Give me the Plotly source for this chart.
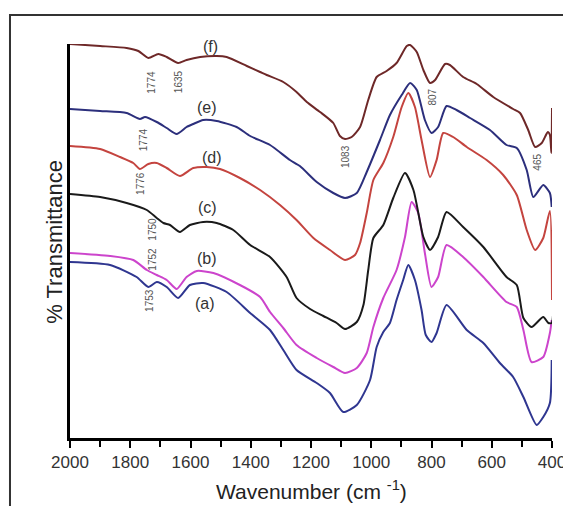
import plotly.graph_objects as go

# Wavenumber (cm-1) and offset % transmittance (arbitrary units)
wn_a = [2000, 1867, 1779, 1740, 1712, 1679, 1641, 1602, 1558, 1480, 1402, 1336, 1292, 1248, 1181, 1137, 1093, 1048, 1004, 982, 960, 938, 916, 894, 877, 855, 833, 819, 800, 783, 750, 683, 628, 573, 529, 495, 451, 429, 407, 401]
t_a = [176, 173, 161, 151, 156, 151, 140, 153, 155, 146, 125, 108, 88, 68, 55, 45, 26, 33, 58, 91, 106, 115, 138, 158, 173, 158, 128, 103, 96, 105, 133, 108, 95, 75, 61, 41, 13, 21, 35, 78]

wn_b = [2000, 1867, 1790, 1745, 1712, 1679, 1646, 1613, 1579, 1524, 1436, 1369, 1336, 1292, 1248, 1181, 1126, 1087, 1048, 1015, 993, 960, 916, 888, 866, 844, 822, 800, 778, 750, 695, 628, 551, 517, 495, 468, 429, 407, 401]
t_b = [185, 182, 178, 168, 163, 158, 149, 161, 167, 165, 153, 141, 126, 110, 93, 80, 71, 65, 70, 85, 111, 140, 168, 201, 236, 225, 185, 151, 161, 193, 181, 161, 136, 131, 108, 76, 81, 105, 118]

wn_c = [2000, 1900, 1812, 1745, 1712, 1690, 1668, 1635, 1602, 1558, 1513, 1458, 1402, 1336, 1281, 1248, 1203, 1159, 1115, 1087, 1048, 1026, 1010, 993, 960, 927, 888, 860, 827, 805, 778, 750, 695, 628, 551, 517, 495, 468, 429, 412, 401, 400]
t_c = [244, 241, 235, 228, 220, 215, 213, 206, 213, 216, 215, 208, 193, 181, 161, 140, 129, 122, 115, 109, 116, 133, 168, 200, 213, 240, 265, 248, 201, 188, 201, 226, 211, 191, 161, 153, 120, 111, 121, 115, 115, 208]

wn_d = [2000, 1900, 1834, 1790, 1768, 1740, 1712, 1679, 1635, 1591, 1546, 1502, 1436, 1369, 1303, 1248, 1192, 1137, 1087, 1054, 1037, 1015, 993, 960, 927, 899, 877, 855, 833, 805, 783, 761, 728, 683, 617, 562, 517, 484, 456, 429, 407, 400]
t_d = [292, 289, 281, 275, 269, 274, 275, 270, 262, 270, 271, 269, 260, 248, 233, 218, 200, 188, 178, 183, 195, 225, 258, 275, 301, 331, 345, 331, 298, 261, 278, 305, 301, 291, 278, 263, 243, 208, 188, 200, 227, 138]

wn_e = [2000, 1900, 1812, 1768, 1751, 1712, 1679, 1646, 1613, 1591, 1558, 1513, 1447, 1402, 1336, 1270, 1237, 1181, 1126, 1087, 1048, 1015, 971, 938, 899, 871, 849, 822, 800, 778, 750, 717, 672, 606, 551, 517, 484, 462, 429, 407, 401]
t_e = [329, 327, 325, 319, 321, 316, 310, 304, 311, 314, 318, 317, 311, 302, 293, 278, 272, 256, 245, 240, 245, 266, 298, 323, 343, 355, 348, 318, 305, 311, 332, 328, 320, 308, 293, 290, 268, 241, 253, 245, 231]

wn_f = [2000, 1900, 1812, 1773, 1740, 1707, 1679, 1641, 1613, 1568, 1513, 1480, 1413, 1369, 1347, 1292, 1248, 1214, 1170, 1126, 1104, 1087, 1065, 1037, 1010, 982, 949, 916, 882, 871, 849, 827, 805, 788, 755, 739, 695, 650, 595, 529, 506, 479, 456, 434, 414, 407, 402, 400]
t_f = [394, 392, 390, 387, 380, 384, 381, 375, 378, 381, 382, 381, 372, 366, 363, 356, 346, 336, 326, 315, 302, 299, 301, 311, 338, 361, 367, 375, 392, 393, 386, 368, 355, 358, 374, 373, 361, 354, 341, 329, 325, 308, 291, 295, 306, 303, 285, 330]

series_names = ["(a)", "(b)", "(c)", "(d)", "(e)", "(f)"]
series_colors = ["#2f3690", "#cc44cc", "#1a1a1a", "#c4443f", "#2c2f7c", "#6e2828"]

# Curve labels: text, wavenumber, transmittance
label_text = ["(f)", "(e)", "(d)", "(c)", "(b)", "(a)"]
label_wn = [1535, 1546, 1529, 1542, 1546, 1552]
label_t = [392, 331, 281, 231, 180, 135]

# Peak annotations (vertical text)
peak_text = ["1774", "1635", "1774", "1776", "1750", "1752", "1753", "1083", "807", "465"]
peak_wn = [1732, 1641, 1757, 1768, 1729, 1729, 1738, 1087, 800, 451]
peak_t = [356, 356, 298, 255, 209, 179, 138, 281, 341, 276]

xs = [wn_a, wn_b, wn_c, wn_d, wn_e, wn_f]
ys = [t_a, t_b, t_c, t_d, t_e, t_f]

FONT = "Liberation Sans, Arial, sans-serif"

fig = go.Figure()
for name, color, x, y in zip(series_names, series_colors, xs, ys):
    fig.add_trace(go.Scatter(x=x, y=y, mode="lines", name=name,
                             line=dict(color=color, width=2, shape="spline", smoothing=0.6),
                             cliponaxis=False))

for t, x, y in zip(label_text, label_wn, label_t):
    fig.add_annotation(x=x, y=y, text=t, showarrow=False,
                       font=dict(family=FONT, size=16, color="#333333"))

for t, x, y in zip(peak_text, peak_wn, peak_t):
    fig.add_annotation(x=x, y=y, text=t, showarrow=False, textangle=-90,
                       font=dict(family=FONT, size=10, color="#555555"))

# axis titles
fig.add_annotation(xref="paper", yref="paper", x=0.502, y=-0.132, yanchor="middle",
                   text="Wavenumber (cm <sup>-1</sup>)", showarrow=False,
                   font=dict(family=FONT, size=21, color="#222222"))
fig.add_annotation(xref="paper", yref="paper", x=-0.062, y=0.497, textangle=-90,
                   text="% Transmittance", showarrow=False,
                   font=dict(family=FONT, size=22, color="#222222"))

# outer frame
fig.add_shape(type="rect", xref="paper", yref="paper",
              x0=-0.1245, x1=1.04, y0=-0.2, y1=1.0736,
              line=dict(color="#333333", width=2), layer="above")

fig.update_layout(
    width=563, height=506,
    margin=dict(l=70, r=11, t=44, b=68),
    paper_bgcolor="white", plot_bgcolor="white",
    showlegend=False,
    font=dict(family=FONT, color="#222222"),
)
fig.update_xaxes(range=[2000, 400], showline=True, linewidth=3, linecolor="black",
                 automargin=False,
                 ticks="outside", ticklen=7, tickwidth=2, tickcolor="black",
                 tickvals=[2000, 1800, 1600, 1400, 1200, 1000, 800, 600, 400],
                 minor=dict(tickvals=[1900, 1700, 1500, 1300, 1100, 900, 700, 500],
                            ticks="outside", ticklen=6, tickwidth=2, tickcolor="black"),
                 tickfont=dict(family=FONT, size=17, color="#333333"),
                 ticklabeloverflow="allow",
                 showgrid=False, zeroline=False)
fig.update_yaxes(range=[0, 394], showline=True, linewidth=3, linecolor="black",
                 automargin=False,
                 showticklabels=False, ticks="", showgrid=False, zeroline=False)

fig.write_html("out.html", config={"responsive": False, "displayModeBar": False},
               post_script="document.body.style.margin='0';document.body.style.overflow='hidden';")
